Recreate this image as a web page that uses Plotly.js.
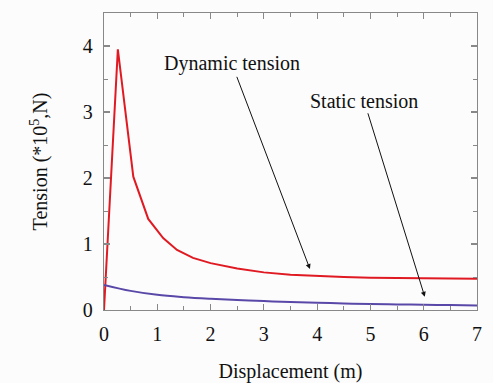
<!DOCTYPE html>
<html><head><meta charset="utf-8">
<script src="https://cdn.plot.ly/plotly-3.0.1.min.js"></script>
<style>body{margin:0;background:#fcfcfc}#c{width:493px;height:383px}</style>
</head><body><div id="c"></div>
<script>
var dynX = [0, 0.26, 0.55, 0.83, 1.11, 1.37, 1.67, 2.0, 2.5, 3.0, 3.5, 4.0, 4.5, 5.0, 5.5, 6.0, 6.5, 7.0];
var dynY = [0, 3.95, 2.02, 1.38, 1.09, 0.91, 0.79, 0.71, 0.63, 0.57, 0.535, 0.515, 0.5, 0.49, 0.485, 0.48, 0.478, 0.475];
var staX = [0, 0.5, 1, 1.5, 2, 2.5, 3, 3.5, 4, 4.5, 5, 5.5, 6, 6.5, 7];
var staY = [0.38, 0.29, 0.23, 0.195, 0.17, 0.15, 0.135, 0.12, 0.11, 0.1, 0.09, 0.085, 0.08, 0.075, 0.07];
var xTicks = [0, 1, 2, 3, 4, 5, 6, 7];
var yTicks = [0, 1, 2, 3, 4];
var labels = ['Dynamic tension', 'Static tension'];

var font = {family: 'Liberation Serif, Times New Roman, serif', size: 20, color: '#111'};
var data = [
  {x: dynX, y: dynY, mode: 'lines', line: {color: '#e01a22', width: 2}, hoverinfo: 'none'},
  {x: staX, y: staY, mode: 'lines', line: {color: '#5a48a8', width: 2, shape: 'spline'}, hoverinfo: 'none'}
];
var axBase = {showgrid: false, zeroline: false, showline: true, linecolor: '#888', linewidth: 1.2,
  mirror: 'ticks', ticks: 'inside', ticklen: 6, tickcolor: '#888', tickwidth: 1.2,
  tickfont: font,
  minor: {ticks: 'inside', ticklen: 4, tickcolor: '#888', tickwidth: 1}};
var layout = {
  width: 493, height: 383,
  margin: {l: 104, r: 16, t: 13, b: 73},
  paper_bgcolor: '#fcfcfc', plot_bgcolor: '#fcfcfc',
  showlegend: false, font: font,
  xaxis: Object.assign({}, axBase, {range: [0, 7], tickvals: xTicks, ticktext: xTicks.map(String),
    ticklabelstandoff: 6,
    minor: Object.assign({}, axBase.minor, {dtick: 0.5, tick0: 0}),
    title: {text: 'Displacement (m)', font: font, standoff: 20}}),
  yaxis: Object.assign({}, axBase, {range: [0, 4.5], tickvals: yTicks, ticktext: yTicks.map(String),
    ticklabelstandoff: 6,
    minor: Object.assign({}, axBase.minor, {dtick: 0.5, tick0: 0}),
    title: {text: 'Tension (*10<sup>5</sup>,N)', font: font, standoff: 29}}),
  annotations: [
    {x: 3.865, y: 0.62, ax: 2.4, ay: 3.73, xref: 'x', yref: 'y', axref: 'x', ayref: 'y',
     showarrow: true, arrowhead: 2, arrowsize: 1, arrowwidth: 1, arrowcolor: '#111',
     text: labels[0], font: font},
    {x: 6.02, y: 0.2, ax: 4.88, ay: 3.17, xref: 'x', yref: 'y', axref: 'x', ayref: 'y',
     showarrow: true, arrowhead: 2, arrowsize: 1, arrowwidth: 1, arrowcolor: '#111',
     text: labels[1], font: font}
  ]
};
Plotly.newPlot('c', data, layout, {staticPlot: true});
</script></body></html>
